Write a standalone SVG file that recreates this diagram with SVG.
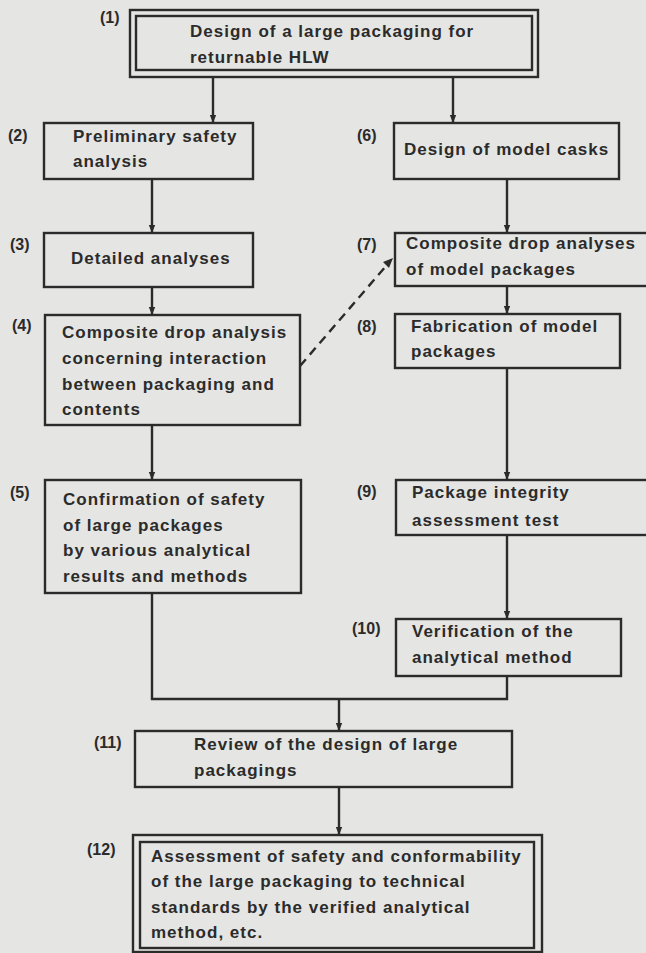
<svg xmlns="http://www.w3.org/2000/svg" width="646" height="953" viewBox="0 0 646 953">
<defs>
<marker id="ah" markerWidth="8" markerHeight="10" refX="8" refY="5" orient="auto" markerUnits="userSpaceOnUse">
<path d="M0,1.8 L8,5 L0,8.2 Z" fill="#2b2b2b"/>
</marker>
<style>
.box{fill:none;stroke:#2b2b2b;stroke-width:2.4}
.t{font-family:"Liberation Sans",Arial,sans-serif;font-weight:bold;font-size:17px;letter-spacing:1px;fill:#2b2b2b}
.n{font-family:"Liberation Sans",Arial,sans-serif;font-weight:bold;font-size:16px;fill:#2b2b2b}
.c{fill:none;stroke:#2b2b2b;stroke-width:2.4}
.a{marker-end:url(#ah)}
.d{fill:none;stroke:#2b2b2b;stroke-width:2.4;stroke-dasharray:9,6}
</style>
</defs>
<rect x="0" y="0" width="646" height="953" fill="#e5e5e3"/>

<g id="connectors">
<line class="c a" x1="213" y1="77" x2="213" y2="123"/>
<line class="c a" x1="453" y1="77" x2="453" y2="123"/>
<line class="c a" x1="152" y1="179" x2="152" y2="233"/>
<line class="c a" x1="152" y1="287" x2="152" y2="315"/>
<line class="c a" x1="152" y1="425" x2="152" y2="480"/>
<line class="c a" x1="507" y1="179" x2="507" y2="233"/>
<line class="c a" x1="507" y1="286" x2="507" y2="314"/>
<line class="c a" x1="507" y1="368" x2="507" y2="480"/>
<line class="c a" x1="507" y1="535" x2="507" y2="619"/>
<polyline class="c" points="152,593 152,699 507,699 507,676"/>
<line class="c a" x1="339" y1="699" x2="339" y2="731"/>
<line class="c a" x1="339" y1="787" x2="339" y2="835"/>
<line class="d" x1="300" y1="366" x2="386" y2="266"/>
<path d="M393,258 L383,262 L389,268 Z" fill="#2b2b2b"/>
</g>

<g id="node1">
<rect class="box" x="130" y="10" width="408" height="67"/>
<rect class="box" x="136" y="16" width="396" height="54"/>
<text class="n" x="100" y="23">(1)</text>
<text class="t" x="190" y="37">Design of a large packaging for</text>
<text class="t" x="190" y="63">returnable HLW</text>
</g>

<g id="node2">
<rect class="box" x="44" y="123" width="209" height="56"/>
<text class="n" x="8" y="141">(2)</text>
<text class="t" x="73" y="142">Preliminary safety</text>
<text class="t" x="73" y="167">analysis</text>
</g>

<g id="node3">
<rect class="box" x="44" y="233" width="209" height="54"/>
<text class="n" x="10" y="250">(3)</text>
<text class="t" x="71" y="264">Detailed analyses</text>
</g>

<g id="node4">
<rect class="box" x="45" y="315" width="255" height="110"/>
<text class="n" x="12" y="331">(4)</text>
<text class="t" x="62" y="338">Composite drop analysis</text>
<text class="t" x="62" y="364">concerning interaction</text>
<text class="t" x="62" y="390">between packaging and</text>
<text class="t" x="62" y="415">contents</text>
</g>

<g id="node5">
<rect class="box" x="45" y="480" width="256" height="113"/>
<text class="n" x="10" y="498">(5)</text>
<text class="t" x="63" y="505">Confirmation of safety</text>
<text class="t" x="63" y="531">of large packages</text>
<text class="t" x="63" y="556">by various analytical</text>
<text class="t" x="63" y="582">results and methods</text>
</g>

<g id="node6">
<rect class="box" x="394" y="123" width="225" height="56"/>
<text class="n" x="357" y="141">(6)</text>
<text class="t" x="404" y="155">Design of model casks</text>
</g>

<g id="node7">
<rect class="box" x="395" y="233" width="254" height="53"/>
<text class="n" x="357" y="250">(7)</text>
<text class="t" x="406" y="249">Composite drop analyses</text>
<text class="t" x="406" y="275">of model packages</text>
</g>

<g id="node8">
<rect class="box" x="395" y="314" width="225" height="54"/>
<text class="n" x="357" y="332">(8)</text>
<text class="t" x="411" y="332">Fabrication of model</text>
<text class="t" x="411" y="357">packages</text>
</g>

<g id="node9">
<rect class="box" x="396" y="480" width="253" height="55"/>
<text class="n" x="357" y="497">(9)</text>
<text class="t" x="412" y="498">Package integrity</text>
<text class="t" x="412" y="526">assessment test</text>
</g>

<g id="node10">
<rect class="box" x="396" y="619" width="225" height="57"/>
<text class="n" x="352" y="634">(10)</text>
<text class="t" x="412" y="637">Verification of the</text>
<text class="t" x="412" y="663">analytical method</text>
</g>

<g id="node11">
<rect class="box" x="135" y="731" width="377" height="56"/>
<text class="n" x="94" y="748">(11)</text>
<text class="t" x="194" y="750">Review of the design of large</text>
<text class="t" x="194" y="776">packagings</text>
</g>

<g id="node12">
<rect class="box" x="133" y="835" width="409" height="117"/>
<rect class="box" x="140" y="842" width="394" height="106"/>
<text class="n" x="87" y="855">(12)</text>
<text class="t" x="151" y="862">Assessment of safety and conformability</text>
<text class="t" x="151" y="887">of the large packaging to technical</text>
<text class="t" x="151" y="913">standards by the verified analytical</text>
<text class="t" x="151" y="938">method, etc.</text>
</g>
</svg>
